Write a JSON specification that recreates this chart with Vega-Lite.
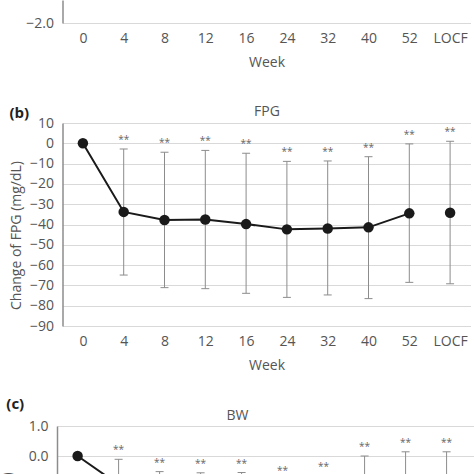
{
  "$schema": "https://vega.github.io/schema/vega-lite/v6.json",
  "padding": {"left": 0, "top": 0, "right": 0, "bottom": 0},
  "background": "white",
  "bounds": "flush",
  "center": true,
  "spacing": 100,
  "config": {
    "view": {"stroke": null},
    "font": "Open Sans",
    "axis": {
      "labelFont": "Open Sans", "titleFont": "Open Sans",
      "labelFontSize": 14, "titleFontSize": 14,
      "labelColor": "#555", "titleColor": "#555", "titleFontWeight": "normal",
      "ticks": false, "gridColor": "#d9d9d9", "gridWidth": 1,
      "domainColor": "#8c8c8c", "domainWidth": 1.5
    },
    "axisX": {"domain": false, "grid": false, "labelAngle": 0, "labelPadding": 8, "titlePadding": 10},
    "axisY": {"labelPadding": 9, "titlePadding": 6, "labelOverlap": false, "tickCount": 20},
    "title": {"font": "Open Sans", "fontSize": 15, "fontWeight": "bold", "color": "#222", "anchor": "start", "frame": "bounds"}
  },
  "datasets": {
    "hba1c": [
      {"week": "0", "mean": 0.0},
      {"week": "4", "mean": -0.5},
      {"week": "8", "mean": -0.7},
      {"week": "12", "mean": -0.8},
      {"week": "16", "mean": -0.8},
      {"week": "24", "mean": -0.8},
      {"week": "32", "mean": -0.8},
      {"week": "40", "mean": -0.75},
      {"week": "52", "mean": -0.7},
      {"week": "LOCF", "mean": -0.7}
    ],
    "fpg": [
      {"week": "0", "mean": 0.0, "lo": null, "hi": null, "sig": ""},
      {"week": "4", "mean": -33.8, "lo": -64.9, "hi": -2.8, "sig": "**"},
      {"week": "8", "mean": -37.8, "lo": -71.1, "hi": -4.4, "sig": "**"},
      {"week": "12", "mean": -37.5, "lo": -71.6, "hi": -3.5, "sig": "**"},
      {"week": "16", "mean": -39.8, "lo": -73.9, "hi": -4.9, "sig": "**"},
      {"week": "24", "mean": -42.4, "lo": -75.9, "hi": -8.9, "sig": "**"},
      {"week": "32", "mean": -42.0, "lo": -74.7, "hi": -8.7, "sig": "**"},
      {"week": "40", "mean": -41.4, "lo": -76.5, "hi": -6.6, "sig": "**"},
      {"week": "52", "mean": -34.5, "lo": -68.5, "hi": -0.3, "sig": "**"},
      {"week": "LOCF", "mean": -34.2, "lo": -69.2, "hi": 1.0, "sig": "**"}
    ],
    "bw": [
      {"week": "0", "mean": 0.0, "lo": null, "hi": null, "sig": ""},
      {"week": "4", "mean": -0.95, "lo": -1.79, "hi": -0.11, "sig": "**"},
      {"week": "8", "mean": -1.45, "lo": -2.38, "hi": -0.52, "sig": "**"},
      {"week": "12", "mean": -1.55, "lo": -2.54, "hi": -0.56, "sig": "**"},
      {"week": "16", "mean": -1.6, "lo": -2.65, "hi": -0.55, "sig": "**"},
      {"week": "24", "mean": -1.9, "lo": -3.0, "hi": -0.8, "sig": "**"},
      {"week": "32", "mean": -1.8, "lo": -2.92, "hi": -0.68, "sig": "**"},
      {"week": "40", "mean": -1.6, "lo": -3.2, "hi": 0.0, "sig": "**"},
      {"week": "52", "mean": -1.55, "lo": -3.24, "hi": 0.14, "sig": "**"},
      {"week": "LOCF", "mean": -1.55, "lo": -3.24, "hi": 0.14, "sig": "**"}
    ]
  },
  "vconcat": [
    {
      "width": 408, "height": 23,
      "data": {"name": "hba1c"},
      "encoding": {
        "x": {"field": "week", "type": "ordinal", "scale": {"type": "point", "padding": 0.5, "domain": ["0", "4", "8", "12", "16", "24", "32", "40", "52", "LOCF"]}, "axis": {"title": "Week"}}
      },
      "layer": [
        {
          "transform": [{"filter": "datum.week !== 'LOCF'"}],
          "mark": {"type": "line", "color": "#1a1a1a", "strokeWidth": 2, "clip": true},
          "encoding": {"y": {"field": "mean", "type": "quantitative", "scale": {"domain": [-2.0, -1.75], "nice": false, "zero": false},
            "axis": {"values": [-2.0], "format": ".1f", "grid": true, "title": null}}}
        },
        {
          "mark": {"type": "point", "filled": true, "size": 110, "color": "#1a1a1a", "opacity": 1, "clip": true},
          "encoding": {"y": {"field": "mean", "type": "quantitative", "scale": {"domain": [-2.0, -1.75], "nice": false, "zero": false}}}
        }
      ]
    },
    {
      "width": 408, "height": 203,
      "data": {"name": "fpg"},
      "title": {"text": "(b)", "offset": -17},
      "encoding": {
        "x": {"field": "week", "type": "ordinal", "scale": {"type": "point", "padding": 0.5, "domain": ["0", "4", "8", "12", "16", "24", "32", "40", "52", "LOCF"]}, "axis": {"title": "Week"}}
      },
      "layer": [
        {
          "layer": [
            {
              "mark": {"type": "rule", "color": "#8c8c8c", "strokeWidth": 1},
              "encoding": {
                "y": {"field": "lo", "type": "quantitative", "scale": {"domain": [-90, 10], "nice": false},
                  "axis": {"values": [10, 0, -10, -20, -30, -40, -50, -60, -70, -80, -90], "tickCount": 20, "grid": true, "title": "Change of FPG (mg/dL)", "titleY": 112}},
                "y2": {"field": "hi"}
              }
            },
            {
              "mark": {"type": "tick", "orient": "horizontal", "size": 8, "thickness": 1, "color": "#8c8c8c", "opacity": 1},
              "encoding": {"y": {"field": "lo", "type": "quantitative", "scale": {"domain": [-90, 10], "nice": false}}}
            },
            {
              "mark": {"type": "tick", "orient": "horizontal", "size": 8, "thickness": 1, "color": "#8c8c8c", "opacity": 1},
              "encoding": {"y": {"field": "hi", "type": "quantitative", "scale": {"domain": [-90, 10], "nice": false}}}
            },
            {
              "transform": [{"filter": "datum.week !== 'LOCF'"}],
              "mark": {"type": "line", "color": "#1a1a1a", "strokeWidth": 2},
              "encoding": {"y": {"field": "mean", "type": "quantitative", "scale": {"domain": [-90, 10], "nice": false}}}
            },
            {
              "mark": {"type": "point", "filled": true, "size": 110, "color": "#1a1a1a", "opacity": 1},
              "encoding": {"y": {"field": "mean", "type": "quantitative", "scale": {"domain": [-90, 10], "nice": false}}}
            }
          ]
        },
        {
          "mark": {"type": "text", "baseline": "alphabetic", "dy": -6, "fontSize": 10, "color": "#666", "font": "Open Sans"},
          "encoding": {
            "x": {"field": "week", "type": "ordinal", "scale": {"type": "point", "padding": 0.5, "domain": ["0", "4", "8", "12", "16", "24", "32", "40", "52", "LOCF"]},
              "axis": {"orient": "top", "title": "FPG", "labels": false, "domain": false, "ticks": false, "grid": false, "titlePadding": 5}},
            "y": {"field": "hi", "type": "quantitative", "scale": {"domain": [-90, 10], "nice": false}},
            "text": {"field": "sig"}
          }
        }
      ],
      "resolve": {"axis": {"x": "independent"}}
    },
    {
      "width": 419, "height": 210,
      "data": {"name": "bw"},
      "title": {"text": "(c)", "offset": -4, "dx": 6},
      "encoding": {
        "x": {"field": "week", "type": "ordinal", "scale": {"type": "point", "padding": 0.61, "align": 0.412, "domain": ["0", "4", "8", "12", "16", "24", "32", "40", "52", "LOCF"]}, "axis": {"title": "Week"}}
      },
      "layer": [
        {
          "layer": [
            {
              "mark": {"type": "rule", "color": "#8c8c8c", "strokeWidth": 1},
              "encoding": {
                "y": {"field": "lo", "type": "quantitative", "scale": {"domain": [-6, 1], "nice": false},
                  "axis": {"values": [1, 0, -1, -2, -3, -4, -5, -6], "tickCount": 20, "format": ".1f", "grid": true, "title": "Change of BW (kg)"}},
                "y2": {"field": "hi"}
              }
            },
            {
              "mark": {"type": "tick", "orient": "horizontal", "size": 8, "thickness": 1, "color": "#8c8c8c", "opacity": 1},
              "encoding": {"y": {"field": "lo", "type": "quantitative", "scale": {"domain": [-6, 1], "nice": false}}}
            },
            {
              "mark": {"type": "tick", "orient": "horizontal", "size": 8, "thickness": 1, "color": "#8c8c8c", "opacity": 1},
              "encoding": {"y": {"field": "hi", "type": "quantitative", "scale": {"domain": [-6, 1], "nice": false}}}
            },
            {
              "transform": [{"filter": "datum.week !== 'LOCF'"}],
              "mark": {"type": "line", "color": "#1a1a1a", "strokeWidth": 2},
              "encoding": {"y": {"field": "mean", "type": "quantitative", "scale": {"domain": [-6, 1], "nice": false}}}
            },
            {
              "mark": {"type": "point", "filled": true, "size": 110, "color": "#1a1a1a", "opacity": 1},
              "encoding": {"y": {"field": "mean", "type": "quantitative", "scale": {"domain": [-6, 1], "nice": false}}}
            }
          ]
        },
        {
          "mark": {"type": "text", "baseline": "alphabetic", "dy": -6, "fontSize": 10, "color": "#666", "font": "Open Sans"},
          "encoding": {
            "x": {"field": "week", "type": "ordinal", "scale": {"type": "point", "padding": 0.61, "align": 0.412, "domain": ["0", "4", "8", "12", "16", "24", "32", "40", "52", "LOCF"]},
              "axis": {"orient": "top", "title": "BW", "labels": false, "domain": false, "ticks": false, "grid": false, "titlePadding": 4, "titleX": 180}},
            "y": {"field": "hi", "type": "quantitative", "scale": {"domain": [-6, 1], "nice": false}},
            "text": {"field": "sig"}
          }
        }
      ],
      "resolve": {"axis": {"x": "independent"}}
    }
  ]
}
